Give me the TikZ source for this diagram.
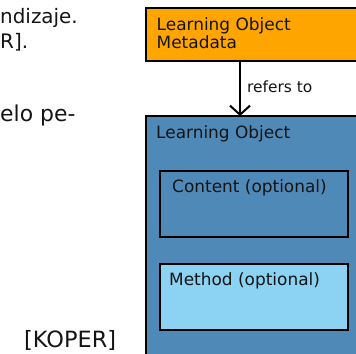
\documentclass[tikz,border=0pt]{standalone}
\usepackage{fontspec}
\setmainfont{DejaVu Sans}
\usetikzlibrary{arrows.meta}
\definecolor{lomorange}{HTML}{FFA500}
\definecolor{loblue}{HTML}{4F89B7}
\definecolor{lolight}{HTML}{8CD2F2}
\definecolor{ink}{HTML}{141414}
\tikzset{
  box/.style={draw=black, line width=2.2bp},
  lbl/.style={inner sep=0pt, anchor=base west, text=ink, font=\fontsize{17}{18}\selectfont},
  side/.style={inner sep=0pt, anchor=base west, text=ink, font=\fontsize{20}{22}\selectfont},
}
\begin{document}
\begin{tikzpicture}[x=1bp, y=-1bp]
\useasboundingbox (0,0) rectangle (356,354);
\begin{scope}
\clip (0,0) rectangle (356,354);
% side text (continuation of page)
\node[side] (t1) at (0,23) {ndizaje.};
\node[side] (t2) at (0,48) {R].};
\node[side, font=\fontsize{22}{24}\selectfont] (t3) at (0,121) {elo pe-};
\node[side, font=\fontsize{22.5}{24}\selectfont] (t4) at (24,347) {[KOPER]};
% orange metadata box
\draw[box, fill=lomorange] (146,8) rectangle (362,61);
\coordinate (meta) at (240,61);
\node[lbl] (m1) at (156.5,30) {Learning Object};
\node[lbl] (m2) at (156.5,48) {Metadata};
% blue learning object box
\draw[box, fill=loblue] (146,116) rectangle (362,362);
\coordinate (lo) at (240,116);
\node[lbl] (l1) at (156,138) {Learning Object};
% content
\draw[box, fill=loblue] (160,171) rectangle (348,237);
\node[lbl] (c1) at (172,192) {Content (optional)};
% method
\draw[box, fill=lolight] (160,264) rectangle (348,330);
\node[lbl] (d1) at (169,285) {Method (optional)};
% arrow
\draw[line width=2bp, -{Straight Barb[length=9bp, width=20bp, line width=2bp]}] (meta) -- (lo);
\node[lbl, font=\fontsize{15.5}{17}\selectfont] (r1) at (247,92) {refers to};
\end{scope}
\end{tikzpicture}
\end{document}
